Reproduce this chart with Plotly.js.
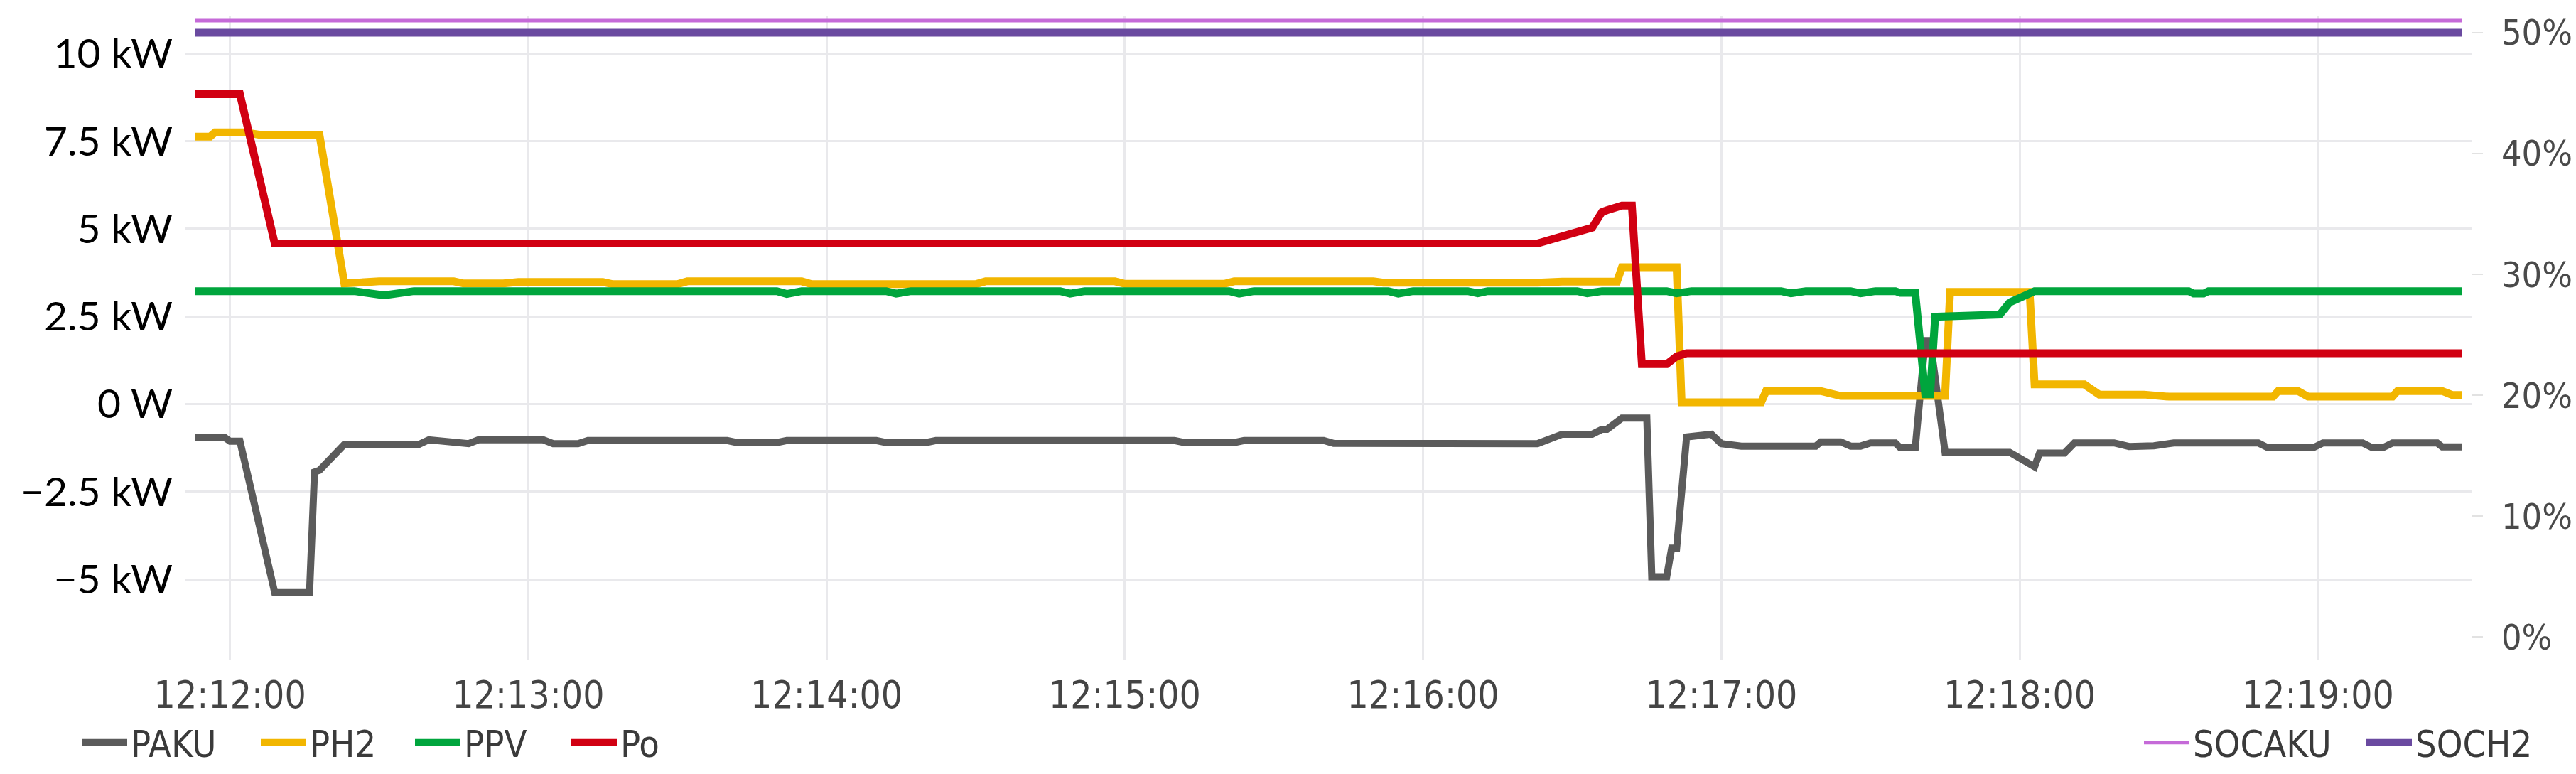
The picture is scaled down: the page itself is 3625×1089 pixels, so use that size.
<!DOCTYPE html>
<html>
<head>
<meta charset="utf-8">
<script src="https://cdn.plot.ly/plotly-3.0.1.min.js"></script>
<style>
  html, body { margin: 0; padding: 0; background: #ffffff; }
  #chart { width: 3625px; height: 1089px; }
</style>
</head>
<body>
<div id="chart"></div>
<script>
// ---- data (times hh:mm:ss, power in kW, state of charge in %) ----
const DAY = '2023-05-10 ';

const PAKU_time = ['12:11:53','12:11:59','12:12:00','12:12:02','12:12:09','12:12:16','12:12:17','12:12:18','12:12:23','12:12:38',
  '12:12:40','12:12:48','12:12:50','12:13:03','12:13:05','12:13:10','12:13:12','12:13:40','12:13:42','12:13:50',
  '12:13:52','12:14:10','12:14:12','12:14:20','12:14:22','12:14:40','12:14:42','12:14:48','12:14:50','12:15:10',
  '12:15:12','12:15:22','12:15:24','12:15:40','12:15:42','12:15:55','12:15:57','12:16:06','12:16:08','12:16:14',
  '12:16:15','12:16:23','12:16:28','12:16:34','12:16:36','12:16:37','12:16:40','12:16:45','12:16:46','12:16:49',
  '12:16:50','12:16:51','12:16:53','12:16:58','12:17:00','12:17:04','12:17:19','12:17:20','12:17:24','12:17:26',
  '12:17:28','12:17:30','12:17:35','12:17:36','12:17:39','12:17:41','12:17:42','12:17:45','12:17:58','12:18:03',
  '12:18:04','12:18:09','12:18:11','12:18:19','12:18:22','12:18:27','12:18:31','12:18:48','12:18:50','12:18:59',
  '12:19:01','12:19:09','12:19:11','12:19:13','12:19:15','12:19:24','12:19:25','12:19:29'];
const PAKU_kW = [-0.96,-0.96,-1.06,-1.06,-5.38,-5.38,-1.94,-1.89,-1.15,-1.15,
  -1.02,-1.13,-1.02,-1.02,-1.13,-1.13,-1.04,-1.04,-1.10,-1.10,
  -1.04,-1.04,-1.10,-1.10,-1.04,-1.04,-1.09,-1.09,-1.04,-1.04,
  -1.10,-1.10,-1.04,-1.04,-1.12,-1.12,-1.13,-1.13,-1.09,-1.09,
  -1.13,-1.13,-0.86,-0.86,-0.72,-0.72,-0.40,-0.40,-4.93,-4.93,
  -4.11,-4.11,-0.94,-0.86,-1.13,-1.20,-1.20,-1.08,-1.08,-1.20,
  -1.20,-1.11,-1.11,-1.25,-1.25,1.81,1.81,-1.38,-1.38,-1.79,
  -1.40,-1.40,-1.11,-1.11,-1.21,-1.19,-1.11,-1.11,-1.25,-1.25,
  -1.11,-1.11,-1.25,-1.25,-1.11,-1.11,-1.22,-1.22];

const PH2_time = ['12:11:53','12:11:56','12:11:57','12:12:03','12:12:06','12:12:18','12:12:23','12:12:30','12:12:45','12:12:47',
  '12:12:55','12:12:58','12:13:15','12:13:17','12:13:30','12:13:32','12:13:55','12:13:57','12:14:30','12:14:32',
  '12:14:58','12:15:00','12:15:20','12:15:22','12:15:50','12:15:52','12:16:23','12:16:28','12:16:39','12:16:40',
  '12:16:51','12:16:52','12:17:08','12:17:09','12:17:20','12:17:24','12:17:45','12:17:46','12:18:02','12:18:03',
  '12:18:13','12:18:16','12:18:25','12:18:30','12:18:51','12:18:52','12:18:56','12:18:58','12:19:15','12:19:16',
  '12:19:25','12:19:27','12:19:29'];
const PH2_kW = [7.63,7.63,7.75,7.75,7.68,7.68,3.44,3.50,3.50,3.44,
  3.44,3.48,3.48,3.42,3.42,3.50,3.50,3.42,3.42,3.50,
  3.50,3.43,3.43,3.50,3.50,3.46,3.46,3.49,3.49,3.90,
  3.90,0.05,0.05,0.37,0.37,0.23,0.23,3.20,3.20,0.56,
  0.56,0.27,0.27,0.21,0.21,0.37,0.37,0.21,0.21,0.37,
  0.37,0.26,0.26];

const PPV_time = ['12:11:53','12:12:25','12:12:31','12:12:37','12:13:50','12:13:52','12:13:55','12:14:12','12:14:14','12:14:17',
  '12:14:47','12:14:49','12:14:52','12:15:21','12:15:23','12:15:26','12:15:53','12:15:55','12:15:58','12:16:09',
  '12:16:11','12:16:13','12:16:31','12:16:33','12:16:36','12:16:49','12:16:51','12:16:54','12:17:12','12:17:14',
  '12:17:17','12:17:26','12:17:28','12:17:31','12:17:35','12:17:36','12:17:39','12:17:41','12:17:42','12:17:43',
  '12:17:56','12:17:58','12:18:03','12:18:34','12:18:35','12:18:37','12:18:38','12:19:29'];
const PPV_kW = [3.22,3.22,3.10,3.22,3.22,3.14,3.22,3.22,3.15,3.22,
  3.22,3.15,3.22,3.22,3.15,3.22,3.22,3.15,3.22,3.22,
  3.16,3.22,3.22,3.16,3.22,3.22,3.16,3.22,3.22,3.16,
  3.22,3.22,3.16,3.22,3.22,3.17,3.17,0.28,0.28,2.49,
  2.55,2.90,3.22,3.22,3.15,3.15,3.22,3.22];

const Po_time = ['12:11:53','12:12:02','12:12:09','12:16:23','12:16:34','12:16:36','12:16:37','12:16:40','12:16:42','12:16:44',
  '12:16:49','12:16:51','12:16:53','12:19:29'];
const Po_kW = [8.84,8.84,4.58,4.58,5.03,5.48,5.53,5.66,5.66,1.14,
  1.14,1.36,1.45,1.45];

const SOCAKU_time = ['12:11:53','12:19:29'];
const SOCAKU_pct = [51,51];
const SOCH2_time = ['12:11:53','12:19:29'];
const SOCH2_pct = [50,50];

const powerTickVals = [10,7.5,5,2.5,0,-2.5,-5];
const powerTickText = ['10 kW','7.5 kW','5 kW','2.5 kW','0 W','\u22122.5 kW','\u22125 kW'];
const socTickVals = [0,10,20,30,40,50];
const socTickText = ['0%','10%','20%','30%','40%','50%'];

// ---- chart ----
const stamp = a => a.map(t => DAY + t);
const NARROW = '"Liberation Sans Narrow", "DejaVu Sans Condensed", "Roboto", sans-serif';

function trace(name, t, v, axis, color, width, legendId) {
  return {type:'scatter', mode:'lines', name:name, x:stamp(t), y:v, yaxis:axis,
          line:{color:color, width:width, shape:'linear'}, legend:legendId, hoverinfo:'skip'};
}

const traces = [
  trace('PAKU', PAKU_time, PAKU_kW, 'y', '#5b5b5b', 10, 'legend'),
  trace('PH2', PH2_time, PH2_kW, 'y', '#f2b600', 11, 'legend2'),
  trace('PPV', PPV_time, PPV_kW, 'y', '#00a53d', 11, 'legend3'),
  trace('Po', Po_time, Po_kW, 'y', '#d10012', 11, 'legend4'),
  trace('SOCAKU', SOCAKU_time, SOCAKU_pct, 'y2', '#c56ad8', 5, 'legend5'),
  trace('SOCH2', SOCH2_time, SOCH2_pct, 'y2', '#6a4aa0', 11, 'legend6')
];

function legendAt(px) {
  return {
    orientation:'h', xref:'container', yref:'container',
    x:px/3625, y:0.0404, xanchor:'left', yanchor:'middle',
    font:{family:NARROW, size:52, color:'#3a3a3a'},
    itemwidth:64, bgcolor:'rgba(0,0,0,0)', borderwidth:0
  };
}

const layout = {
  width:3625, height:1089,
  margin:{l:260, r:147, t:22, b:161},
  paper_bgcolor:'#ffffff', plot_bgcolor:'#ffffff',
  showlegend:true,
  xaxis:{
    type:'date',
    range:[DAY+'12:11:50.9', DAY+'12:19:30.9'],
    tick0:DAY+'12:12:00', dtick:60000, tickformat:'%H:%M:%S',
    showgrid:true, gridcolor:'#e9e9ec', gridwidth:3,
    zeroline:false, showline:false, ticks:'',
    tickfont:{family:NARROW, size:53, color:'#444444'},
    ticklabelstandoff:14
  },
  yaxis:{
    range:[-7.29, 11.08],
    tickmode:'array', tickvals:powerTickVals, ticktext:powerTickText,
    showgrid:true, gridcolor:'#e9e9ec', gridwidth:3,
    zeroline:false, showline:false, ticks:'',
    tickfont:{family:'Lato, "Open Sans", sans-serif', size:57, color:'#000000'},
    ticklabelstandoff:16
  },
  yaxis2:{
    overlaying:'y', side:'right',
    range:[-1.88, 51.41],
    tickmode:'array', tickvals:socTickVals, ticktext:socTickText,
    showgrid:false, zeroline:false, showline:false,
    ticks:'outside', ticklen:15, tickwidth:2, tickcolor:'#e2e2e2',
    tickfont:{family:NARROW, size:50, color:'#4a4a4a'},
    ticklabelstandoff:16
  },
  legend:legendAt(110),
  legend2:legendAt(362),
  legend3:legendAt(579),
  legend4:legendAt(799),
  legend5:legendAt(3012),
  legend6:legendAt(3325)
};

Plotly.newPlot('chart', traces, layout, {displayModeBar:false, staticPlot:true});
</script>
</body>
</html>
